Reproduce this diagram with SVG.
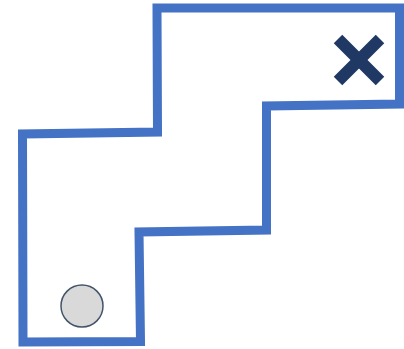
<svg xmlns="http://www.w3.org/2000/svg" width="404" height="349" viewBox="0 0 404 349">
  <style>
    .wall { fill: none; stroke: #4472c4; stroke-width: 9; stroke-linejoin: miter; }
    .cross { stroke: #1f3864; stroke-width: 12; stroke-linecap: butt; }
    .ball { fill: #d9d9d9; stroke: #44546a; stroke-width: 1.5; }
  </style>
  <rect width="404" height="349" fill="#ffffff"/>
  <g id="maze">
    <path class="wall" d="M157,8 L399.5,8 L399.5,104 L266.5,106 L266.5,230 L139,232 L140.5,341.5 L23,342 L22.5,134 L157.5,132 Z"/>
  </g>
  <g id="goal">
    <line class="cross" x1="338" y1="39" x2="380" y2="81"/>
    <line class="cross" x1="380" y1="39" x2="338" y2="81"/>
  </g>
  <g id="ball">
    <circle class="ball" cx="82" cy="306" r="21"/>
  </g>
</svg>
